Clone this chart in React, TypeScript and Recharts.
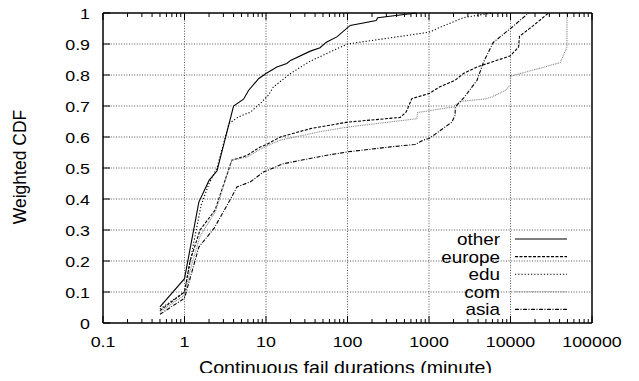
import React from 'react';
import { LineChart, Line, XAxis, YAxis, ReferenceLine } from 'recharts';

// ---------- data ----------
const X_TICKS = [0.1, 1, 10, 100, 1000, 10000, 100000];
const X_TICK_LABELS = ['0.1', '1', '10', '100', '1000', '10000', '100000'];
const X_MINOR_TICKS = [
  0.2, 0.3, 0.4, 0.5, 0.6, 0.7, 0.8, 0.9,
  2, 3, 4, 5, 6, 7, 8, 9,
  20, 30, 40, 50, 60, 70, 80, 90,
  200, 300, 400, 500, 600, 700, 800, 900,
  2000, 3000, 4000, 5000, 6000, 7000, 8000, 9000,
  20000, 30000, 40000, 50000, 60000, 70000, 80000, 90000,
];
const Y_TICKS = [0, 0.1, 0.2, 0.3, 0.4, 0.5, 0.6, 0.7, 0.8, 0.9, 1];
const Y_TICK_LABELS = ['0', '0.1', '0.2', '0.3', '0.4', '0.5', '0.6', '0.7', '0.8', '0.9', '1'];

const OTHER: [number, number][] = [
  [0.5, 0.052], [1, 0.143], [1.5, 0.39], [2, 0.46], [2.5, 0.49], [4, 0.70], [5.3, 0.722],
  [6.1, 0.75], [8.1, 0.788], [10, 0.805], [13.6, 0.826], [18, 0.837], [20, 0.847],
  [35, 0.877], [46, 0.888], [55, 0.906], [74, 0.923], [108, 0.96], [225, 0.976],
  [235, 0.985], [700, 1],
];
const EUROPE: [number, number][] = [
  [0.5, 0.04], [1, 0.1], [1.17, 0.2], [1.55, 0.30], [2.37, 0.364], [3.8, 0.525],
  [5.8, 0.54], [8.5, 0.568], [10, 0.575], [15, 0.60], [35, 0.627], [100, 0.648],
  [443, 0.663], [525, 0.681], [617, 0.724], [1000, 0.74], [1340, 0.761], [2090, 0.783],
  [2650, 0.805], [3890, 0.826], [10000, 0.862], [12560, 0.89], [12900, 0.925],
  [19200, 0.96], [29300, 1],
];
const EDU: [number, number][] = [
  [0.5, 0.045], [1, 0.1], [1.3, 0.26], [1.6, 0.38], [2, 0.45], [2.5, 0.5], [3.1, 0.59],
  [3.5, 0.643], [4.6, 0.665], [6.4, 0.68], [8.5, 0.708], [10.7, 0.735], [12.3, 0.761],
  [20, 0.805], [35, 0.845], [100, 0.9], [1000, 0.938], [1400, 0.955], [2650, 0.985],
  [4700, 0.996], [6000, 1],
];
const COM: [number, number][] = [
  [0.5, 0.035], [1, 0.09], [1.2, 0.18], [1.55, 0.28], [2.4, 0.36], [3.8, 0.525],
  [5.8, 0.535], [8.5, 0.56], [10, 0.57], [15, 0.59], [46, 0.617], [100, 0.632],
  [710, 0.659], [725, 0.679], [2000, 0.697], [2400, 0.715], [4670, 0.722], [5900, 0.729],
  [8600, 0.75], [10000, 0.767], [10000, 0.796], [40800, 0.84], [49300, 0.89], [49300, 1],
];
const ASIA: [number, number][] = [
  [0.5, 0.028], [1, 0.08], [1.5, 0.245], [2.3, 0.305], [3.6, 0.396], [4.4, 0.439],
  [6.4, 0.455], [9.3, 0.487], [16.4, 0.514], [56, 0.541], [100, 0.552], [334, 0.568],
  [676, 0.576], [850, 0.59], [1000, 0.595], [1910, 0.648], [2090, 0.67], [2100, 0.697],
  [2650, 0.725], [3890, 0.783], [4670, 0.842], [6140, 0.905], [10000, 0.95], [16700, 1],
];

const toRows = (pts: [number, number][]) => pts.map(([x, y]) => ({ x, y }));

const SERIES = [
  { name: 'other', data: toRows(OTHER), stroke: '#000', dash: undefined as string | undefined, width: 1.1 },
  { name: 'europe', data: toRows(EUROPE), stroke: '#000', dash: '3 1.5', width: 1.1 },
  { name: 'edu', data: toRows(EDU), stroke: '#000', dash: '1.2 2', width: 1.1 },
  { name: 'com', data: toRows(COM), stroke: '#8a8a8a', dash: '1 0.8', width: 1.1 },
  { name: 'asia', data: toRows(ASIA), stroke: '#000', dash: '4 1.5 1 1.5', width: 1.1 },
];

const ALL_X_TICKS = [...X_TICKS, ...X_MINOR_TICKS].sort((a, b) => a - b);
const FONT = '"Liberation Sans", Arial, Helvetica, sans-serif';

const majorIndex = (v: number) => X_TICKS.findIndex((t) => Math.abs(t - v) / t < 1e-6);

const BottomTick = (props: any) => {
  const { x, y, payload } = props;
  const idx = majorIndex(payload.value);
  const major = idx >= 0;
  return (
    <g>
      <line x1={x} x2={x} y1={y} y2={y - (major ? 7 : 4)} stroke="#000" strokeWidth={1} />
      {major && (
        <text
          transform={`translate(${x},${y + 23.7}) scale(1.15,1)`}
          textAnchor="middle"
          fontSize={15.5}
          fontFamily={FONT}
          fill="#000"
        >
          {X_TICK_LABELS[idx]}
        </text>
      )}
    </g>
  );
};

const TopTick = (props: any) => {
  const { x, y, payload } = props;
  const major = majorIndex(payload.value) >= 0;
  return <line x1={x} x2={x} y1={y} y2={y + (major ? 7 : 4)} stroke="#000" strokeWidth={1} />;
};

const LeftTick = (props: any) => {
  const { x, y, payload } = props;
  const idx = Y_TICKS.findIndex((t) => Math.abs(t - payload.value) < 1e-9);
  return (
    <g>
      <line x1={x} x2={x + 7} y1={y} y2={y} stroke="#000" strokeWidth={1} />
      <text
        transform={`translate(${x - 13},${y + 5.5}) scale(1.15,1)`}
        textAnchor="end"
        fontSize={15.5}
        fontFamily={FONT}
        fill="#000"
      >
        {Y_TICK_LABELS[idx]}
      </text>
    </g>
  );
};

const RightTick = (props: any) => {
  const { x, y } = props;
  return <line x1={x} x2={x - 7} y1={y} y2={y} stroke="#000" strokeWidth={1} />;
};

const W = 639;
const H = 381;
const GRID = { stroke: '#555', strokeDasharray: '1 1.6', strokeWidth: 1 };

export default function App() {
  return (
    <div style={{ position: 'relative', width: W, height: H, margin: '-8px' }}>
      <LineChart width={W} height={H} margin={{ top: 12, right: 46, bottom: 0, left: 0 }}>
        <XAxis
          dataKey="x"
          type="number"
          scale="log"
          domain={[0.1, 100000]}
          ticks={ALL_X_TICKS}
          interval={0}
          allowDataOverflow
          height={58}
          tickSize={0}
          tickMargin={0}
          tickLine={false}
          tick={<BottomTick />}
          axisLine={{ stroke: '#000', strokeWidth: 1.5 }}
        />
        <XAxis
          xAxisId="top"
          orientation="top"
          dataKey="x"
          type="number"
          scale="log"
          domain={[0.1, 100000]}
          ticks={ALL_X_TICKS}
          interval={0}
          allowDataOverflow
          height={1}
          tickSize={0}
          tickMargin={0}
          tickLine={false}
          tick={<TopTick />}
          axisLine={{ stroke: '#000', strokeWidth: 1.5 }}
        />
        <YAxis
          type="number"
          domain={[0, 1]}
          ticks={Y_TICKS}
          interval={0}
          width={103}
          tickSize={0}
          tickMargin={0}
          tickLine={false}
          tick={<LeftTick />}
          axisLine={{ stroke: '#000', strokeWidth: 1.5 }}
        />
        <YAxis
          yAxisId="right"
          orientation="right"
          type="number"
          domain={[0, 1]}
          ticks={Y_TICKS}
          interval={0}
          width={1}
          tickSize={0}
          tickMargin={0}
          tickLine={false}
          tick={<RightTick />}
          axisLine={{ stroke: '#000', strokeWidth: 1.5 }}
        />
        {X_TICKS.slice(1, -1).map((v) => (
          <ReferenceLine key={`gx${v}`} x={v} {...GRID} />
        ))}
        {Y_TICKS.slice(1, -1).map((v) => (
          <ReferenceLine key={`gy${v}`} y={v} {...GRID} />
        ))}
        {SERIES.map((s) => (
          <Line
            key={s.name}
            data={s.data}
            dataKey="y"
            name={s.name}
            type="linear"
            stroke={s.stroke}
            strokeWidth={s.width}
            strokeDasharray={s.dash}
            dot={false}
            activeDot={false}
            isAnimationActive={false}
          />
        ))}
      </LineChart>
      <svg
        width={W}
        height={H}
        style={{ position: 'absolute', left: 0, top: 0, pointerEvents: 'none' }}
      >
        <text
          transform={`translate(345.5,374) scale(1.06,1)`}
          textAnchor="middle"
          fontSize={18.5}
          fontFamily={FONT}
          fill="#000"
        >
          Continuous fail durations (minute)
        </text>
        <text
          transform={`translate(26,167) rotate(-90)`}
          textAnchor="middle"
          fontSize={17.5}
          fontFamily={FONT}
          fill="#000"
        >
          Weighted CDF
        </text>
        {SERIES.map((s, i) => {
          const y = 239 + i * 17.6;
          return (
            <g key={s.name}>
              <text
                transform={`translate(500,${y + 6}) scale(1.18,1)`}
                textAnchor="end"
                fontSize={16}
                fontFamily={FONT}
                fill="#000"
              >
                {s.name}
              </text>
              <line
                x1={515}
                x2={567}
                y1={y}
                y2={y}
                stroke={s.stroke}
                strokeWidth={s.width}
                strokeDasharray={s.dash}
              />
            </g>
          );
        })}
      </svg>
    </div>
  );
}
